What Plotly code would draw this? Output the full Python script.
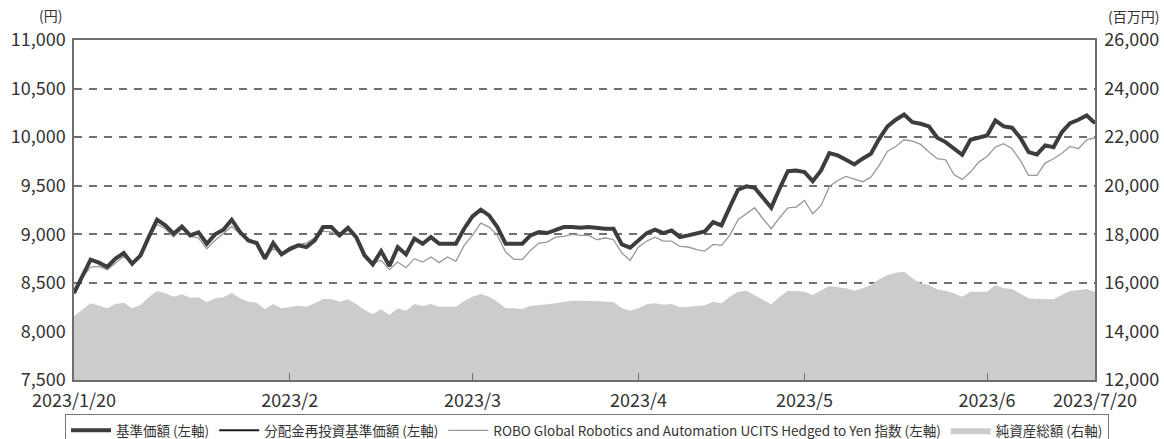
import plotly.graph_objects as go

# 基準価額 (left axis, yen)
nav = [8395, 8567, 8739, 8708, 8663, 8749, 8807, 8697, 8780, 8971, 9150, 9092, 9006, 9081, 8989, 9020,
       8903, 8999, 9047, 9150, 9023, 8937, 8910, 8749, 8910, 8793, 8848, 8886, 8869, 8937, 9074,
       9074, 8989, 9067, 8971, 8783, 8690, 8827, 8673, 8868, 8793, 8955, 8903, 8971, 8903, 8903, 8903,
       9057, 9184, 9253, 9194, 9074, 8903, 8903, 8903, 8989, 9023, 9013, 9047, 9074, 9074, 9067,
       9074, 9064, 9057, 9057, 8896, 8862, 8937, 9012, 9047, 9012, 9040, 8971, 8989, 9006, 9030,
       9126, 9092, 9280, 9459, 9493, 9479, 9376, 9274, 9469, 9650, 9657, 9640, 9547, 9657, 9835, 9812,
       9767, 9719, 9778, 9829, 9983, 10110, 10179, 10233, 10154, 10138, 10110, 9994, 9949, 9881, 9819,
       9973, 9994, 10017, 10172, 10110, 10097, 9994, 9846, 9822, 9915, 9897, 10051, 10144, 10179, 10223, 10144]

# 分配金再投資基準価額 (no distributions -> identical to NAV)
nav_reinvested = list(nav)

# ROBO Global Robotics and Automation UCITS Hedged to Yen index
robo = [8420, 8560, 8663, 8670, 8636, 8704, 8773, 8704, 8773, 8955, 9102, 9057, 8971, 9057, 8978, 8964,
        8851, 8937, 9012, 9081, 9006, 8930, 8910, 8773, 8851, 8800, 8869, 8896, 8910, 8964, 9033,
        9023, 8971, 9047, 8964, 8766, 8704, 8731, 8636, 8714, 8656, 8749, 8714, 8766, 8708, 8766, 8721,
        8886, 8989, 9115, 9074, 8989, 8817, 8742, 8742, 8834, 8910, 8920, 8971, 8978, 8999, 8989,
        8989, 8944, 8964, 8944, 8807, 8731, 8869, 8930, 8971, 8930, 8930, 8875, 8869, 8841, 8827,
        8896, 8886, 8989, 9150, 9211, 9273, 9160, 9057, 9170, 9273, 9280, 9348, 9211, 9297, 9493, 9554,
        9596, 9572, 9541, 9588, 9709, 9856, 9904, 9973, 9959, 9925, 9846, 9778, 9767, 9616, 9565,
        9640, 9743, 9801, 9897, 9932, 9881, 9760, 9606, 9606, 9733, 9778, 9835, 9904, 9881, 9973, 9994]

# 純資産総額 (right axis, million yen)
net_assets = [14635, 14882, 15158, 15060, 14951, 15130, 15185, 14951, 15089, 15404, 15665, 15569, 15432,
              15528, 15391, 15404, 15199, 15364, 15404, 15597, 15364, 15226, 15185, 14910, 15130, 14951,
              15020, 15060, 15020, 15158, 15336,
              15336, 15226, 15322, 15130, 14882, 14718, 14910, 14677, 14951, 14854, 15130, 15047, 15130,
              15020, 15020, 15020, 15253, 15432, 15541, 15432, 15226, 14951, 14951, 14924, 15060, 15103,
              15116, 15158, 15199, 15267, 15267,
              15267, 15253, 15226, 15212, 14951, 14854, 14951, 15116, 15158, 15103, 15130, 14992, 15020,
              15047, 15075, 15226, 15158, 15432, 15637, 15679, 15500, 15295, 15116, 15432, 15665, 15665,
              15637, 15500, 15679, 15871, 15816,
              15775, 15679, 15775, 15912, 16147, 16324, 16420, 16462, 16188, 15982, 15912, 15734, 15679,
              15569, 15432, 15637, 15637, 15637, 15912, 15775, 15747, 15569, 15364, 15336, 15336, 15322,
              15500, 15665, 15706, 15747, 15637]

tick_labels = ["2023/1/20", "2023/2", "2023/3", "2023/4", "2023/5", "2023/6", "2023/7/20"]
tick_index = [0, 26, 48, 68, 88, 110, 123]

left_ticks = list(range(7500, 11001, 500))
right_ticks = list(range(12000, 26001, 2000))

x = list(range(len(nav)))
FONT = "Noto Sans CJK JP, Noto Sans, sans-serif"
AX = "#6e6e6e"

fig = go.Figure()
fig.add_trace(go.Scatter(x=x, y=net_assets, yaxis="y2", name="純資産総額 (右軸)",
                         mode="lines", fill="tozeroy", fillcolor="#cccccc",
                         line=dict(color="#cccccc", width=0), legendrank=4))
fig.add_trace(go.Scatter(x=x, y=nav_reinvested, name="分配金再投資基準価額 (左軸)",
                         mode="lines", line=dict(color="#1a1a1a", width=2), legendrank=2))
fig.add_trace(go.Scatter(x=x, y=robo, name="ROBO Global Robotics and Automation UCITS Hedged to Yen 指数 (左軸)",
                         mode="lines", line=dict(color="#999999", width=1.3), legendrank=3))
fig.add_trace(go.Scatter(x=x, y=nav, name="基準価額 (左軸)",
                         mode="lines", line=dict(color="#3d3d3d", width=4), legendrank=1))

fig.update_layout(
    width=1164, height=439,
    margin=dict(l=74, r=69, t=40, b=59, autoexpand=False),
    plot_bgcolor="white", paper_bgcolor="white",
    font=dict(family=FONT, color="#333333", size=18),
    showlegend=True,
    legend=dict(orientation="h", x=-0.0088, xanchor="left", y=-0.1, yanchor="top",
                font=dict(size=13.5, color="#333333"), bordercolor="#777777", borderwidth=1,
                itemwidth=40, tracegroupgap=0, traceorder="normal"),
    xaxis=dict(range=[0, len(nav) - 1], tickvals=tick_index, ticktext=tick_labels,
               showline=True, linecolor=AX, linewidth=1.5, mirror=True,
               ticks="inside", ticklen=7, tickcolor=AX, showgrid=False, zeroline=False,
               tickfont=dict(size=18), ticklabelstandoff=4),
    yaxis=dict(range=[7500, 11000], tickvals=left_ticks, tickformat=",",
               showline=True, linecolor=AX, linewidth=1.5,
               showgrid=True, gridcolor="#707070", griddash="8px,7px", gridwidth=1.5,
               zeroline=False, ticks="", tickfont=dict(size=18), ticklabelstandoff=3),
    yaxis2=dict(range=[12000, 26000], tickvals=right_ticks, tickformat=",",
                overlaying="y", side="right", showline=True, linecolor=AX, linewidth=1.5,
                showgrid=False, zeroline=False, ticks="", tickfont=dict(size=18), ticklabelstandoff=4),
    annotations=[
        dict(text="(円)", xref="paper", yref="paper", x=-0.023, y=1.0, yshift=25,
             showarrow=False, font=dict(size=14, color="#333333"), xanchor="center", yanchor="middle"),
        dict(text="(百万円)", xref="paper", yref="paper", x=1.038, y=1.0, yshift=24,
             showarrow=False, font=dict(size=14, color="#333333"), xanchor="center", yanchor="middle"),
    ],
)

fig.write_html("out.html", config={"displayModeBar": False},
               post_script="document.body.style.margin='0';document.body.style.overflow='hidden';")
